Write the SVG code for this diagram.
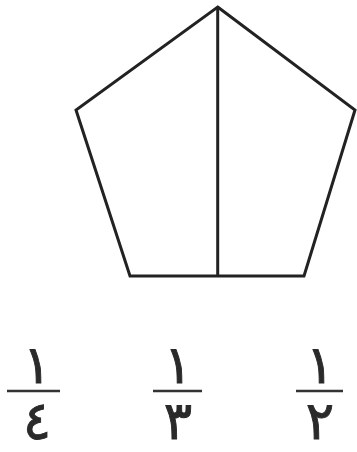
<svg xmlns="http://www.w3.org/2000/svg" width="357" height="452" viewBox="0 0 357 452">
<style>
.ln{fill:none;stroke:#222;stroke-width:3;stroke-linejoin:miter}
.bar{stroke:#333;stroke-width:2.5}
.num{font-family:"DejaVu Sans",sans-serif;font-size:53px;fill:#2a2a2a;stroke:#2a2a2a;stroke-width:0.9;text-anchor:middle}
</style>
<rect width="357" height="452" fill="#fff"/>
<g id="pentagon">
<polygon class="ln" points="217.7,7 355,110 304,276 130,276 76,110"/>
</g>
<g id="connectors">
<line class="ln" x1="217.7" y1="7" x2="217.7" y2="276"/>
</g>
<g id="frac-quarter">
<text class="num" x="37" y="383">١</text>
<line class="bar" x1="7" y1="391" x2="60" y2="391"/>
<text class="num" x="37" y="439">٤</text>
</g>
<g id="frac-third">
<text class="num" x="178" y="383">١</text>
<line class="bar" x1="153" y1="391" x2="202" y2="391"/>
<text class="num" x="178" y="439">٣</text>
</g>
<g id="frac-half">
<text class="num" x="320" y="383">١</text>
<line class="bar" x1="296" y1="391" x2="343" y2="391"/>
<text class="num" x="320" y="439">٢</text>
</g>
</svg>
